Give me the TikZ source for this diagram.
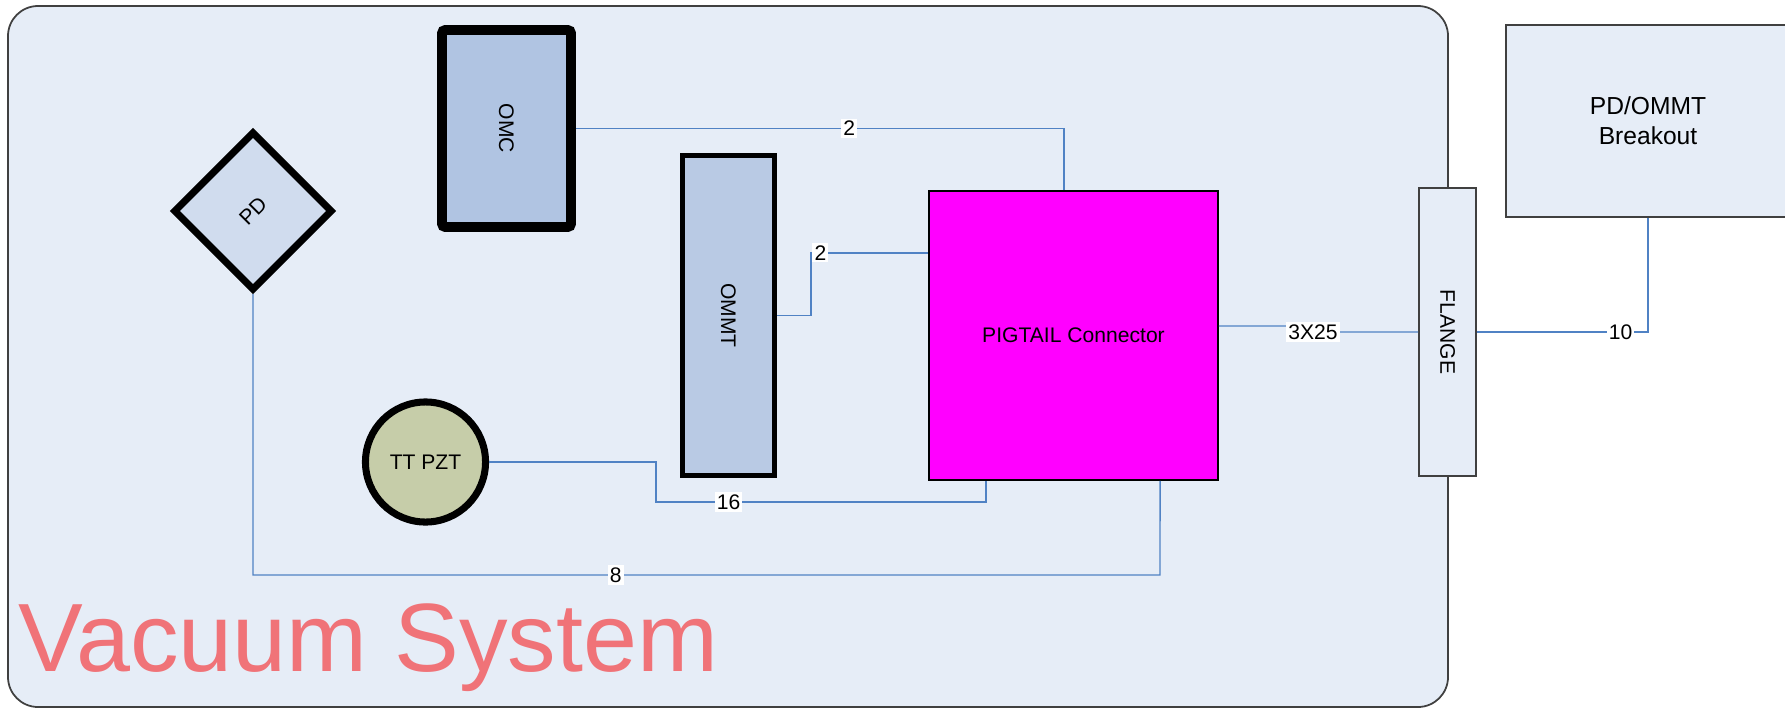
\documentclass[tikz,border=0pt]{standalone}
\usepackage{fontspec}
\setmainfont{Liberation Sans}
\usepackage{graphicx}
\usetikzlibrary{shapes.geometric}
\definecolor{vacfill}{HTML}{E6EDF7}
\definecolor{omcfill}{HTML}{B0C4E2}
\definecolor{ommtfill}{HTML}{B9CAE4}
\definecolor{pdfill}{HTML}{D0DCEE}
\definecolor{pztfill}{HTML}{C6CDA9}
\definecolor{pigfill}{RGB}{255,0,255}
\definecolor{wireblue}{HTML}{5082C4}
\definecolor{vacred}{HTML}{F07378}
\begin{document}
\begin{tikzpicture}[x=0.01cm,y=-0.01cm,
    every node/.style={font=\fontsize{6}{7}\selectfont},
    part/.style={rectangle,draw=black,inner sep=0pt},
    wire/.style={draw=wireblue,line width=0.4pt},
    lbl/.style={fill=white,inner sep=0.6pt}]
  \useasboundingbox (0,0) rectangle (1785,709);
  % vacuum chamber
  \draw[draw=black!75,fill=vacfill,line width=0.5pt,rounded corners=0.3cm] (8,6) rectangle (1448,707);
  \node[anchor=base west,inner sep=0pt,text=vacred,font=\fontsize{27.6}{30}\selectfont] (vac) at (18,671) {Vacuum System};
  % parts inside
  \node[part,line width=2.8pt,rounded corners=1pt,fill=omcfill,minimum width=1.29cm,minimum height=1.97cm] (omc) at (506.5,128.5) {\rotatebox{-90}{OMC}};
  \node[part,line width=1.5pt,fill=ommtfill,minimum width=0.92cm,minimum height=3.2cm] (ommt) at (728.5,315.5) {\rotatebox{-90}{OMMT}};
  \node[diamond,draw=black,line width=2pt,fill=pdfill,inner sep=0pt,minimum width=1.59cm,minimum height=1.59cm] (pd) at (253,211) {\rotatebox{45}{PD}};
  \node[circle,draw=black,line width=2pt,fill=pztfill,inner sep=0pt,minimum size=1.2cm] (pzt) at (425.5,462) {TT PZT};
  \node[part,line width=0.4pt,fill=pigfill,minimum size=2.89cm] (pig) at (1073.5,335.5) {PIGTAIL Connector};
  \node[part,draw=black!75,line width=0.5pt,fill=vacfill,minimum width=0.57cm,minimum height=2.88cm] (flange) at (1447.5,332) {\rotatebox{-90}{FLANGE}};
  % outside
  \node[part,draw=black!75,line width=0.5pt,fill=vacfill,minimum width=2.84cm,minimum height=1.92cm,align=center,font=\fontsize{7}{8.5}\selectfont] (brk) at (1648,121) {PD/OMMT\\Breakout};
  % cables
  \draw[wire] (omc.east) -| node[lbl,pos=0.28] {2} ([xshift=-0.095cm]pig.north);
  \draw[wire] (ommt.east) -- (811,315.5) |- node[lbl,pos=0.54] {2} ([yshift=0.825cm]pig.west);
  \draw[wire] (pzt.east) -| (656,502) -| node[lbl,pos=0.11] {16} ([xshift=-0.875cm]pig.south);
  \draw[wire] (pd.south) |- node[lbl,pos=0.7] {8} (1160,575) -- ([xshift=0.865cm]pig.south);
  \draw[wire] ([yshift=0.095cm]pig.east) -- (1300,326) |- node[lbl,pos=0.555] {3X25} (flange.west);
  \draw[wire] (flange.east) -| node[lbl,pos=0.42] {10} (brk.south);
\end{tikzpicture}
\end{document}
